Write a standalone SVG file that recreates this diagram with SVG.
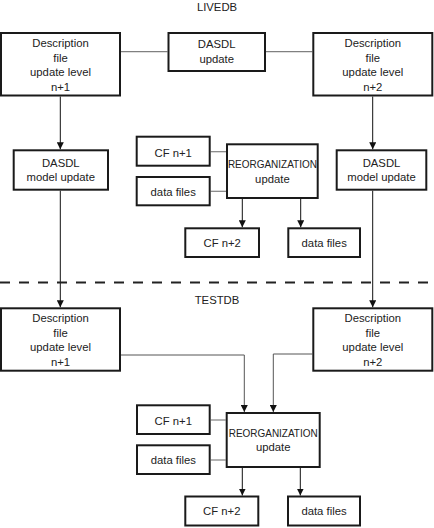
<svg xmlns="http://www.w3.org/2000/svg" width="434" height="528" viewBox="0 0 434 528">
<style>
  .box { fill: #fff; stroke: #1a1a1a; stroke-width: 2; }
  .t { font-family: "Liberation Sans", Arial, sans-serif; font-size: 11.3px; fill: #222; text-anchor: middle; }
  .gray { fill: none; stroke: #808080; stroke-width: 1.2; }
  .arr { fill: none; stroke: #111; stroke-width: 1; marker-end: url(#ah); }
  .arrg { fill: none; stroke: #555; stroke-width: 1; marker-end: url(#ah); }
</style>
<defs>
  <marker id="ah" markerUnits="userSpaceOnUse" markerWidth="7" markerHeight="7" refX="7" refY="3.5" orient="auto">
    <path d="M0,0 L7,3.5 L0,7 z" fill="#111"/>
  </marker>
</defs>
<rect width="434" height="528" fill="#fff"/>

<text class="t" x="217" y="10.5">LIVEDB</text>
<text class="t" x="217" y="303.5">TESTDB</text>

<g id="connectors">
  <path class="gray" d="M120.5 51.7 H167.5"/>
  <path class="gray" d="M266 51.7 H312.3"/>
  <path class="arr" d="M60.3 96.5 V149.3"/>
  <path class="arr" d="M372.7 96.5 V149.3"/>
  <path class="arr" d="M60.3 190.7 V307.3"/>
  <path class="arr" d="M372.7 190.7 V307.3"/>
  <path class="gray" d="M210.7 151.7 H226"/>
  <path class="gray" d="M210.7 191.3 H226"/>
  <path class="arr" d="M242.3 199 V227.3"/>
  <path class="arr" d="M300.7 199 V227.3"/>
  <path class="arrg" d="M120.3 355 H244.3 V412"/>
  <path class="arrg" d="M312.3 354 H273.3 V412"/>
  <path class="gray" d="M210.7 420 H225.7"/>
  <path class="gray" d="M210.7 460 H225.7"/>
  <path class="arr" d="M242.3 468 V495.5"/>
  <path class="arr" d="M300.3 468 V495.5"/>
  <path d="M0 282.5 H434" fill="none" stroke="#222" stroke-width="2" stroke-dasharray="10 9"/>
</g>

<g id="live-desc-n1">
  <rect class="box" x="1" y="33" width="119" height="62.5"/>
  <text class="t" x="60.5" y="47">Description</text>
  <text class="t" x="60.5" y="61.7">file</text>
  <text class="t" x="60.5" y="76.4">update level</text>
  <text class="t" x="60.5" y="91.1">n+1</text>
</g>
<g id="live-dasdl-update">
  <rect class="box" x="168.5" y="33" width="96.5" height="38"/>
  <text class="t" x="216.7" y="48">DASDL</text>
  <text class="t" x="216.7" y="63">update</text>
</g>
<g id="live-desc-n2">
  <rect class="box" x="313.3" y="33" width="119" height="62.5"/>
  <text class="t" x="372.8" y="47">Description</text>
  <text class="t" x="372.8" y="61.7">file</text>
  <text class="t" x="372.8" y="76.4">update level</text>
  <text class="t" x="372.8" y="91.1">n+2</text>
</g>
<g id="live-dasdl-model-left">
  <rect class="box" x="13.7" y="150.3" width="94.3" height="39.4"/>
  <text class="t" x="60.8" y="166.7">DASDL</text>
  <text class="t" x="60.8" y="180.7">model update</text>
</g>
<g id="live-dasdl-model-right">
  <rect class="box" x="336.7" y="150.3" width="89.6" height="39.4"/>
  <text class="t" x="381.5" y="166.7">DASDL</text>
  <text class="t" x="381.5" y="180.7">model update</text>
</g>
<g id="live-cf-n1">
  <rect class="box" x="136.7" y="136.7" width="73" height="29"/>
  <text class="t" x="173.2" y="157.3">CF n+1</text>
</g>
<g id="live-data-in">
  <rect class="box" x="136.7" y="177" width="73" height="28.3"/>
  <text class="t" x="173.2" y="195.5">data files</text>
</g>
<g id="live-reorg">
  <rect class="box" x="227" y="144.3" width="90.7" height="53.7"/>
  <text class="t" x="272.4" y="168.3" textLength="89" lengthAdjust="spacingAndGlyphs">REORGANIZATION</text>
  <text class="t" x="272.4" y="183">update</text>
</g>
<g id="live-cf-n2">
  <rect class="box" x="185.3" y="228.3" width="73.7" height="28.7"/>
  <text class="t" x="222.2" y="247.3">CF n+2</text>
</g>
<g id="live-data-out">
  <rect class="box" x="288.3" y="228.3" width="71.7" height="28.7"/>
  <text class="t" x="324.2" y="247.3">data files</text>
</g>

<g id="test-desc-n1">
  <rect class="box" x="1" y="308.3" width="119" height="62.4"/>
  <text class="t" x="60.5" y="322">Description</text>
  <text class="t" x="60.5" y="336.7">file</text>
  <text class="t" x="60.5" y="351.4">update level</text>
  <text class="t" x="60.5" y="366.1">n+1</text>
</g>
<g id="test-desc-n2">
  <rect class="box" x="313.3" y="308.3" width="119" height="62.4"/>
  <text class="t" x="372.8" y="322">Description</text>
  <text class="t" x="372.8" y="336.7">file</text>
  <text class="t" x="372.8" y="351.4">update level</text>
  <text class="t" x="372.8" y="366.1">n+2</text>
</g>
<g id="test-cf-n1">
  <rect class="box" x="137" y="405.3" width="72.7" height="28.7"/>
  <text class="t" x="173.3" y="425">CF n+1</text>
</g>
<g id="test-data-in">
  <rect class="box" x="137" y="445.3" width="72.7" height="28.7"/>
  <text class="t" x="173.3" y="464.3">data files</text>
</g>
<g id="test-reorg">
  <rect class="box" x="226.7" y="413" width="93" height="54"/>
  <text class="t" x="273.2" y="436.7" textLength="89" lengthAdjust="spacingAndGlyphs">REORGANIZATION</text>
  <text class="t" x="273.2" y="451">update</text>
</g>
<g id="test-cf-n2">
  <rect class="box" x="185.3" y="496.5" width="73" height="29"/>
  <text class="t" x="221.8" y="515">CF n+2</text>
</g>
<g id="test-data-out">
  <rect class="box" x="288" y="496.5" width="72" height="29"/>
  <text class="t" x="324" y="515">data files</text>
</g>
</svg>
